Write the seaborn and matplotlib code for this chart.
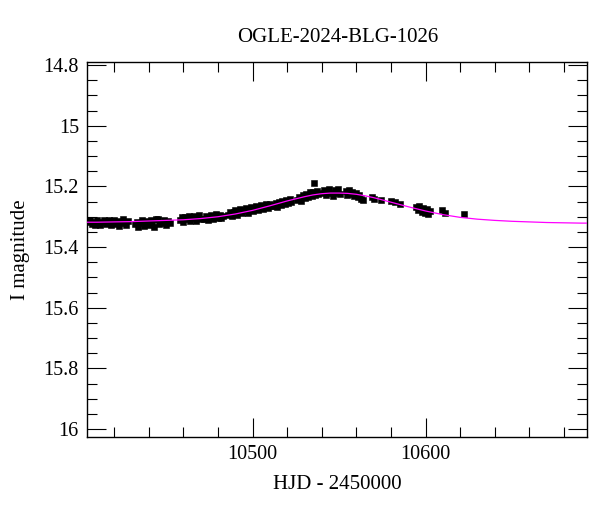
import numpy as np
import pandas as pd
import seaborn as sns
import matplotlib.pyplot as plt
from matplotlib.ticker import MultipleLocator

# photometry (HJD - 2450000, I mag)
hjd = [
    10405.2, 10406.1, 10407.0, 10408.1, 10409.0, 10410.2, 10411.1, 10412.0, 10413.1, 10414.0, 10415.1,
    10416.2, 10417.1, 10418.0, 10419.2, 10420.1, 10421.0, 10422.2, 10423.1, 10424.0, 10425.1, 10426.0,
    10427.1, 10428.0,
    10432.0, 10433.1, 10434.0, 10435.2, 10436.1, 10437.0, 10438.1, 10439.0, 10440.2, 10441.1, 10442.0,
    10443.1, 10444.0, 10445.1, 10446.0,
    10448.0, 10449.1, 10450.0, 10451.2, 10452.1,
    10458.0, 10459.1, 10460.0, 10461.2, 10462.1, 10463.0, 10464.1, 10465.0, 10466.2, 10467.1, 10468.0,
    10469.1, 10470.0,
    10472.2, 10473.1, 10474.0, 10475.2, 10476.1, 10477.0, 10478.1, 10479.0, 10480.2, 10481.1, 10482.0,
    10483.1,
    10486.0, 10487.1, 10488.0, 10489.2, 10490.1, 10491.0, 10492.1, 10493.0, 10494.2, 10495.1, 10496.0,
    10497.1, 10498.0, 10499.2, 10500.1, 10501.0, 10502.1, 10503.0, 10504.2, 10505.1, 10506.0, 10507.1,
    10508.0, 10509.2, 10510.1, 10511.0,
    10512.5, 10513.4, 10514.3, 10515.5, 10516.4, 10517.3, 10518.5, 10519.4, 10520.3, 10521.5, 10522.4,
    10526.0, 10527.1, 10528.0, 10529.2, 10530.1, 10531.0, 10532.1, 10533.0, 10534.2, 10535.1, 10535.8,
    10536.0, 10537.1, 10538.0,
    10540.5, 10541.4, 10542.3, 10543.5, 10544.4, 10545.3, 10546.5, 10547.4, 10548.3, 10549.5, 10550.4,
    10553.8, 10554.7, 10555.6, 10556.8, 10557.7, 10558.6, 10559.8, 10560.7, 10561.6, 10562.8, 10563.7,
    10569.0, 10570.1, 10574.0, 10580.0, 10582.1, 10585.0,
    10594.5, 10595.6, 10596.5, 10597.7, 10598.6, 10599.5, 10600.7, 10601.6, 10602.5,
    10609.5, 10611.0, 10622.5,
]
mag = [
    15.318, 15.311, 15.325, 15.316, 15.327, 15.312, 15.322, 15.328, 15.317, 15.310, 15.324,
    15.321, 15.312, 15.327, 15.317, 15.310, 15.325, 15.314, 15.329, 15.318, 15.309, 15.322,
    15.327, 15.315,
    15.324, 15.316, 15.333, 15.320, 15.312, 15.331, 15.322, 15.314, 15.328, 15.311, 15.320,
    15.334, 15.306, 15.309, 15.323,
    15.320, 15.312, 15.326, 15.314, 15.322,
    15.310, 15.302, 15.316, 15.300, 15.309, 15.297, 15.315, 15.304, 15.299, 15.313, 15.302,
    15.295, 15.308,
    15.308, 15.298, 15.311, 15.301, 15.294, 15.307, 15.297, 15.290, 15.304, 15.293, 15.305,
    15.296,
    15.294, 15.283, 15.298, 15.285, 15.279, 15.293, 15.282, 15.275, 15.288, 15.278, 15.272,
    15.286, 15.276, 15.268, 15.282, 15.273, 15.265, 15.279, 15.269, 15.262, 15.275, 15.265,
    15.259, 15.271, 15.259, 15.266,
    15.266, 15.255, 15.268, 15.251, 15.260, 15.248, 15.257, 15.244, 15.254, 15.241, 15.250,
    15.245, 15.235, 15.249, 15.229, 15.239, 15.225, 15.234, 15.220, 15.230, 15.218, 15.189,
    15.228, 15.214, 15.225,
    15.223, 15.212, 15.227, 15.215, 15.209, 15.221, 15.230, 15.213, 15.222, 15.210, 15.226,
    15.216, 15.228, 15.213, 15.226, 15.218, 15.232, 15.222, 15.236, 15.227, 15.240, 15.244,
    15.236, 15.241, 15.246, 15.248, 15.252, 15.257,
    15.268, 15.279, 15.265, 15.284, 15.272, 15.287, 15.276, 15.291, 15.282,
    15.277, 15.288, 15.290,
]
mag_err = [0.005] * len(hjd)

# model curve
model_hjd = [10400, 10410, 10420, 10430, 10440, 10450, 10460, 10470, 10480, 10490, 10500,
             10510, 10520, 10530, 10535, 10540, 10545, 10550, 10555, 10560, 10565, 10570,
             10580, 10590, 10600, 10610, 10620, 10630, 10640, 10650, 10660, 10670, 10680,
             10690, 10700]
model_mag = [15.318, 15.318, 15.317, 15.316, 15.314, 15.312, 15.310, 15.306, 15.300, 15.291, 15.279,
             15.264, 15.248, 15.234, 15.228, 15.224, 15.222, 15.222, 15.223, 15.226, 15.231, 15.237,
             15.252, 15.267, 15.281, 15.293, 15.302, 15.308, 15.312, 15.315, 15.317, 15.319, 15.320,
             15.321, 15.321]

df = pd.DataFrame({"hjd": hjd, "mag": mag, "err": mag_err})
model = pd.DataFrame({"hjd": model_hjd, "mag": model_mag})

sns.set_style("ticks")
plt.rcParams['font.family'] = ['Liberation Serif', 'DejaVu Serif']
plt.rcParams['text.color'] = 'black'
plt.rcParams['axes.labelcolor'] = 'black'
plt.rcParams['xtick.color'] = 'black'
plt.rcParams['ytick.color'] = 'black'

fig = plt.figure(figsize=(6, 5.12), dpi=100)
ax = fig.add_axes([0.1455, 0.147, 0.8333, 0.7325])

sns.lineplot(data=model, x="hjd", y="mag", color="#ff00ff", lw=0.9, ax=ax, zorder=3)
ax.errorbar(df["hjd"], df["mag"], yerr=df["err"], fmt="none", ecolor="black",
            elinewidth=1.2, capsize=0, zorder=2)
sns.scatterplot(data=df, x="hjd", y="mag", marker="s", s=14, color="black",
                edgecolor="black", linewidth=0.4, ax=ax, zorder=2)

ax.set_xlim(10404.5, 10693.5)
ax.set_ylim(16.025, 14.789)

ax.xaxis.set_major_locator(MultipleLocator(100))
ax.xaxis.set_minor_locator(MultipleLocator(20))
ax.yaxis.set_major_locator(MultipleLocator(0.2))
ax.yaxis.set_minor_locator(MultipleLocator(0.05))
ax.yaxis.set_major_formatter(plt.FuncFormatter(lambda v, p: f"{v:g}"))

ax.tick_params(which="both", direction="in", top=True, right=True, width=0.8,
               labelsize=14.5, colors="black")
ax.tick_params(which="major", length=13.5, pad=6)
ax.tick_params(which="minor", length=7)
for s in ax.spines.values():
    s.set_linewidth(1.0)
    s.set_color("black")

ax.set_xlabel("HJD - 2450000", fontsize=15, labelpad=8)
ax.set_ylabel("I magnitude", fontsize=15, labelpad=10)
ax.set_title("OGLE-2024-BLG-1026", fontsize=15, pad=14)

plt.savefig("out.png", dpi=100)
plt.close()
